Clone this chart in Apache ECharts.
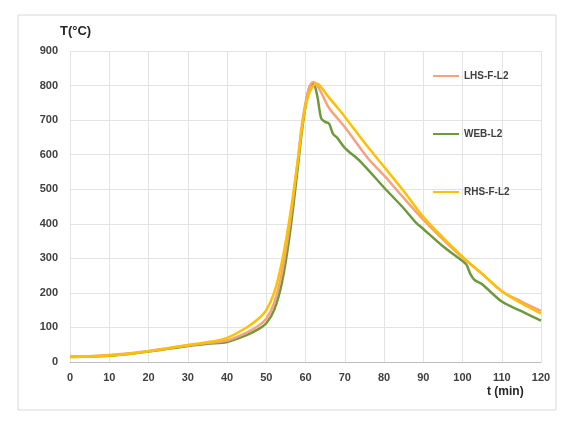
<!DOCTYPE html>
<html>
<head>
<meta charset="utf-8">
<script src="https://cdn.jsdelivr.net/npm/echarts@6/dist/echarts.min.js"></script>
<style>html,body{margin:0;padding:0;background:#fff;}#c{width:565px;height:421px;}</style>
</head>
<body>
<div id="c"></div>
<script>
const seriesNames = ['LHS-F-L2', 'WEB-L2', 'RHS-F-L2'];
const xTicks = [0,10,20,30,40,50,60,70,80,90,100,110,120];
const yTicks = [0,100,200,300,400,500,600,700,800,900];

const tLHS = [0,5,10,15,20,25,30,35,40,45,48,50,52,54,56,58,59,60,61,62,63,64,66,70,76,80,85,90,95,100,105,110,115,120];
const vLHS = [15,17,20,25,32,40,48,55,62,85,105,125,170,260,400,580,680,750,795,810,800,780,735,680,588,540,475,412,355,302,255,205,175,148];

const tWEB = [0,5,10,15,20,25,30,35,40,45,48,50,52,54,56,58,59,60,61,62,63,64,65,66,67,68,70,74,80,85,88,90,95,100,101,102,103,105,110,115,120];
const vWEB = [15,16,18,23,30,38,46,53,58,78,95,112,150,230,370,560,660,740,795,805,770,705,695,690,660,650,620,580,505,445,405,385,335,292,282,255,238,225,175,147,120];

const tRHS = [0,5,10,15,20,25,30,35,40,45,48,50,52,54,56,58,59,60,61,62,63,64,66,68,70,75,80,85,90,95,100,105,110,115,120];
const vRHS = [14,16,19,24,31,40,49,57,70,100,125,150,200,290,420,580,670,740,780,800,805,795,765,738,710,635,565,495,420,360,305,255,205,170,140];

const colors = ['#F5A27E', '#6E9A3C', '#FFC000'];

function pairs(t, v){ return t.map((x,i)=>[x, v[i]]); }
const dataSets = [pairs(tLHS,vLHS), pairs(tWEB,vWEB), pairs(tRHS,vRHS)];

const chart = echarts.init(document.getElementById('c'), null, {renderer:'canvas'});
chart.setOption({
  backgroundColor:'#fff',
  animation:false,
  graphic:[
    {type:'rect', shape:{x:18,y:15,width:538,height:395}, style:{fill:'none', stroke:'#d9d9d9', lineWidth:1}},
    {type:'text', left:60, top:25, style:{text:'T(°C)', font:'bold 13px "Liberation Sans", Arial, sans-serif', fill:'#262626'}},
    {type:'text', left:487, top:386, style:{text:'t (min)', font:'bold 12px "Liberation Sans", Arial, sans-serif', fill:'#262626'}}
  ],
  grid:{left:70, right:24, top:51, bottom:59, containLabel:false},
  legend:{
    orient:'vertical', left:428, top:66, itemGap:48, itemWidth:26, itemHeight:2,
    icon:'rect',
    textStyle:{fontSize:10, fontWeight:'bold', color:'#404040', fontFamily:'"Liberation Sans", Arial, sans-serif'},
    data:seriesNames
  },
  xAxis:{
    type:'value', min:0, max:120, interval:10,
    axisLine:{show:true, lineStyle:{color:'#bfbfbf'}},
    axisTick:{show:false},
    axisLabel:{margin:10, fontSize:11, fontWeight:'bold', color:'#404040', fontFamily:'"Liberation Sans", Arial, sans-serif'},
    splitLine:{show:true, lineStyle:{color:'#e3e3e3'}}
  },
  yAxis:{
    type:'value', min:0, max:900, interval:100,
    axisLine:{show:false},
    axisTick:{show:false},
    axisLabel:{margin:12, fontSize:11, fontWeight:'bold', color:'#404040', fontFamily:'"Liberation Sans", Arial, sans-serif'},
    splitLine:{show:true, lineStyle:{color:'#e3e3e3'}}
  },
  series: seriesNames.map((n,i)=>({
    name:n, type:'line', data:dataSets[i], showSymbol:false, smooth:0.3,
    lineStyle:{width:2.5, color:colors[i]}, itemStyle:{color:colors[i]}, z: i===1?2:3
  }))
});
</script>
</body>
</html>
